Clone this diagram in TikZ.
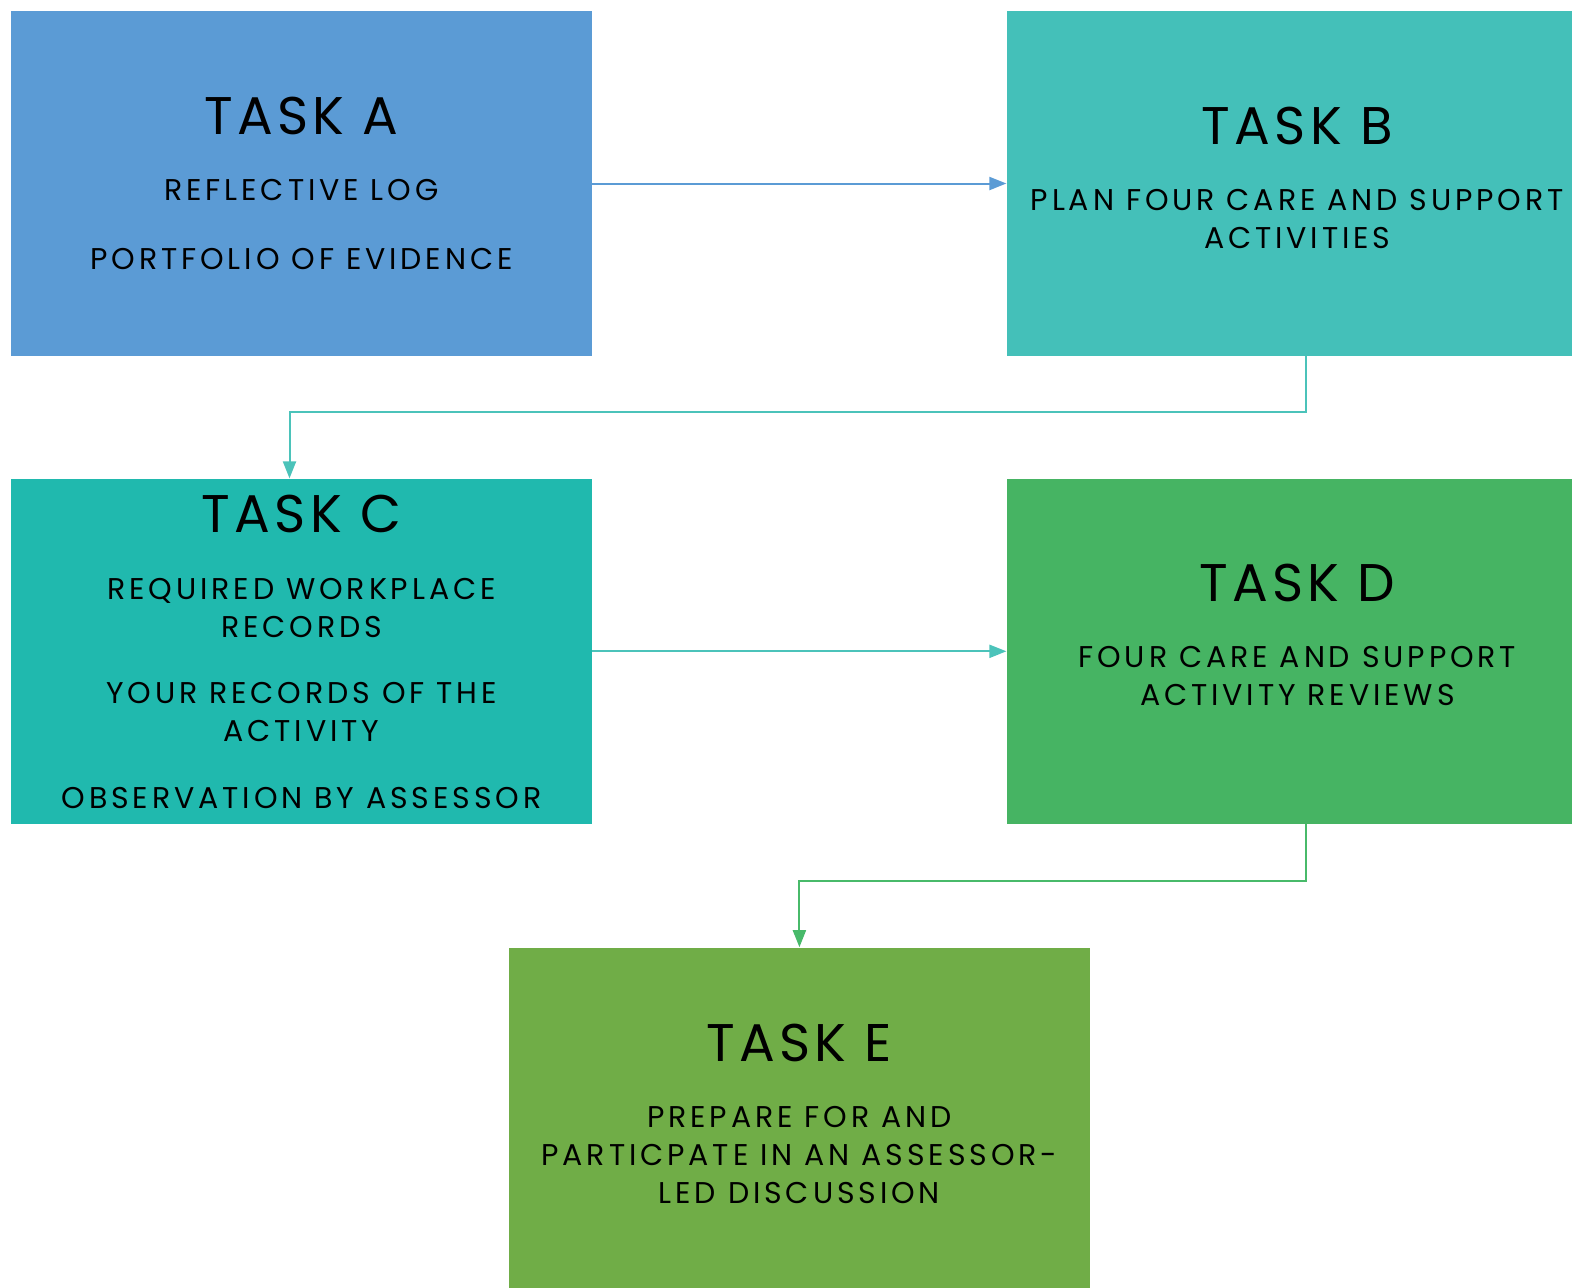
\documentclass[tikz,border=0pt]{standalone}
\usepackage{fontspec}
\setmainfont[LetterSpace=13]{Poppins}
\newfontfamily\titlefont[LetterSpace=8]{Poppins}
\usepackage{xcolor}
\usepackage{tikz}
\usetikzlibrary{arrows.meta,positioning,calc}
\definecolor{taskA}{HTML}{5B9BD5}
\definecolor{taskB}{HTML}{44C0B9}
\definecolor{taskC}{HTML}{20B9AE}
\definecolor{taskD}{HTML}{46B463}
\definecolor{taskE}{HTML}{70AD47}
\definecolor{linkC}{HTML}{4BC3BA}
\definecolor{linkE}{HTML}{48BA6A}
\newcommand{\tasktitle}[1]{{\titlefont\fontsize{26.5}{32}\selectfont #1}}

\begin{document}
\begin{tikzpicture}[x=0.5pt,y=-0.5pt,
node distance=61pt and 207pt,
task/.style={rectangle,align=center,minimum width=290.5pt,minimum height=172.5pt,
inner sep=0pt,font=\fontsize{15}{19}\selectfont},
arrow/.style={-{Triangle[length=8.5pt,width=6.5pt]},line width=1pt}]
\useasboundingbox (0,0) rectangle (1572,1287);
\node[task,fill=taskA] (taskA) at (301.5,183.5)
  {\tasktitle{TASK A}\\[14pt] REFLECTIVE LOG\\[15.5pt] PORTFOLIO OF EVIDENCE};
\node[task,fill=taskB,text depth=6pt, right=of taskA] (taskB)
  {\tasktitle{TASK B}\\[14pt] PLAN FOUR CARE AND SUPPORT\\ACTIVITIES};
\node[task,fill=taskC,text depth=-4pt, below=of taskA] (taskC)
  {\tasktitle{TASK C}\\[14.5pt] REQUIRED WORKPLACE\\RECORDS\\[14pt] YOUR RECORDS OF THE\\ACTIVITY\\[14.5pt] OBSERVATION BY ASSESSOR};
\node[task,fill=taskD,text depth=16.5pt, right=of taskC] (taskD)
  {\tasktitle{TASK D}\\[14pt] FOUR CARE AND SUPPORT\\ACTIVITY REVIEWS};
\coordinate (mid) at ($(taskC.south)!0.5!(taskD.south)$);
\node[task,fill=taskE,text depth=6pt, below=61.5pt of mid] (taskE)
  {\tasktitle{TASK E}\\[14pt] PREPARE FOR AND\\PARTICPATE IN AN ASSESSOR-\\LED DISCUSSION};
\draw[arrow,taskA] (taskA) -- (taskB);
\draw[arrow,linkC] ([xshift=4.5pt]taskB.south) -- ++(0,56) -| ([xshift=-6pt]taskC.north);
\draw[arrow,linkC] (taskC) -- (taskD);
\draw[arrow,linkE] ([xshift=4.5pt]taskD.south) -- ++(0,57) -| (taskE.north);
\end{tikzpicture}
\end{document}
